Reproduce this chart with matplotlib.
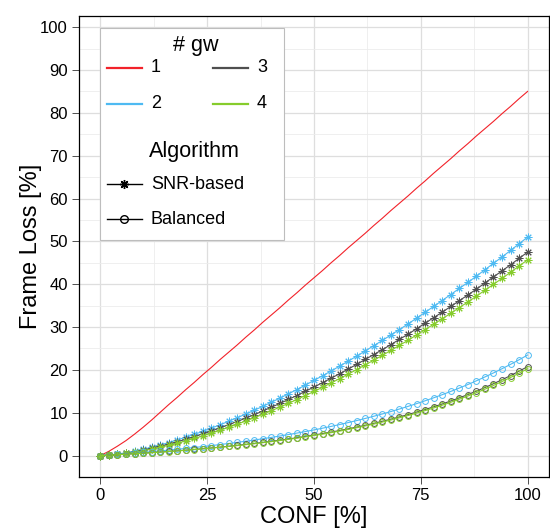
import matplotlib
matplotlib.use("Agg")
import matplotlib.pyplot as plt
from matplotlib.patches import Rectangle
from matplotlib.lines import Line2D
from matplotlib.ticker import MultipleLocator

plt.rcParams["font.family"] = ["Liberation Sans", "DejaVu Sans"]

C_RED = "#f2222a"
C_BLUE = "#4ebaf2"
C_DARK = "#4f4f4f"
C_GREEN = "#86cc2c"
C_GRID = "#dedede"
C_GRID_MINOR = "#ececec"

# CONF [%]
conf = [0, 2, 4, 6, 8, 10, 12, 14, 16, 18, 20, 22, 24, 26, 28, 30, 32, 34, 36, 38, 40,
        42, 44, 46, 48, 50, 52, 54, 56, 58, 60, 62, 64, 66, 68, 70, 72, 74, 76, 78, 80,
        82, 84, 86, 88, 90, 92, 94, 96, 98, 100]

# 1 gw (both algorithms coincide)
loss_gw1 = [0.0, 1.0, 2.2, 3.5, 5.0, 6.6, 8.3, 10.1, 11.9, 13.6, 15.4, 17.1, 18.9, 20.6,
            22.4, 24.1, 25.8, 27.6, 29.3, 31.1, 32.8, 34.5, 36.3, 38.0, 39.8, 41.5, 43.2,
            45.0, 46.7, 48.5, 50.2, 51.9, 53.7, 55.4, 57.2, 58.9, 60.6, 62.4, 64.1, 65.9,
            67.6, 69.3, 71.1, 72.8, 74.6, 76.3, 78.0, 79.8, 81.5, 83.3, 85.0]

# SNR-based
snr_gw2 = [0.0, 0.12, 0.36, 0.67, 1.04, 1.47, 1.95, 2.47, 3.03, 3.64, 4.28, 4.95, 5.66,
           6.41, 7.18, 7.99, 8.83, 9.68, 10.57, 11.48, 12.44, 13.40, 14.41, 15.41, 16.47,
           17.54, 18.63, 19.74, 20.88, 22.04, 23.21, 24.43, 25.66, 26.87, 28.16, 29.42,
           30.72, 32.07, 33.44, 34.81, 36.19, 37.59, 39.01, 40.40, 41.88, 43.37, 44.87,
           46.35, 47.88, 49.45, 51.0]
snr_gw3 = [0.0, 0.10, 0.30, 0.57, 0.90, 1.28, 1.70, 2.17, 2.67, 3.22, 3.80, 4.41, 5.06,
           5.73, 6.44, 7.18, 7.95, 8.73, 9.54, 10.39, 11.28, 12.16, 13.09, 14.02, 15.01,
           16.00, 17.01, 18.06, 19.10, 20.18, 21.30, 22.44, 23.59, 24.72, 25.91, 27.13,
           28.32, 29.60, 30.90, 32.19, 33.47, 34.80, 36.15, 37.48, 38.85, 40.28, 41.71,
           43.10, 44.54, 46.03, 47.5]
snr_gw4 = [0.0, 0.08, 0.26, 0.49, 0.78, 1.12, 1.51, 1.93, 2.39, 2.89, 3.43, 3.99, 4.60,
           5.22, 5.88, 6.58, 7.30, 8.05, 8.82, 9.62, 10.46, 11.30, 12.18, 13.08, 14.02,
           14.97, 15.94, 16.95, 17.96, 19.01, 20.07, 21.16, 22.29, 23.38, 24.56, 25.72,
           26.90, 28.14, 29.40, 30.66, 31.92, 33.22, 34.54, 35.84, 37.20, 38.59, 39.97,
           41.36, 42.78, 44.25, 45.7]

# Balanced
bal_gw2 = [0.0, 0.14, 0.28, 0.43, 0.58, 0.75, 0.92, 1.09, 1.28, 1.47, 1.67, 1.88, 2.10,
           2.33, 2.57, 2.82, 3.08, 3.35, 3.63, 3.93, 4.24, 4.56, 4.90, 5.25, 5.61, 5.99,
           6.39, 6.81, 7.24, 7.70, 8.17, 8.67, 9.18, 9.72, 10.28, 10.87, 11.48, 12.12,
           12.79, 13.48, 14.21, 14.97, 15.76, 16.58, 17.45, 18.35, 19.29, 20.27, 21.29,
           22.36, 23.47]
bal_gw3 = [0.0, 0.10, 0.21, 0.32, 0.44, 0.56, 0.69, 0.82, 0.96, 1.11, 1.27, 1.43, 1.61,
           1.79, 1.98, 2.17, 2.38, 2.60, 2.83, 3.07, 3.33, 3.59, 3.87, 4.16, 4.47, 4.79,
           5.13, 5.48, 5.85, 6.24, 6.65, 7.08, 7.53, 8.01, 8.50, 9.03, 9.57, 10.15, 10.75,
           11.38, 12.04, 12.74, 13.47, 14.24, 15.04, 15.88, 16.77, 17.70, 18.67, 19.70,
           20.77]
bal_gw4 = [0.0, 0.10, 0.20, 0.31, 0.43, 0.55, 0.67, 0.80, 0.94, 1.08, 1.24, 1.40, 1.57,
           1.75, 1.93, 2.12, 2.32, 2.54, 2.76, 3.00, 3.25, 3.50, 3.78, 4.06, 4.36, 4.68,
           5.01, 5.35, 5.71, 6.09, 6.49, 6.91, 7.35, 7.82, 8.30, 8.81, 9.34, 9.91, 10.49,
           11.11, 11.75, 12.43, 13.15, 13.90, 14.68, 15.50, 16.37, 17.28, 18.22, 19.23,
           20.27]

gw_labels = ["1", "2", "3", "4"]
gw_colors = [C_RED, C_BLUE, C_DARK, C_GREEN]
STAR = (8, 2, 0)

W, H = 550, 531
fig = plt.figure(figsize=(W / 100, H / 100), dpi=100)
ax = fig.add_axes([79 / W, 1 - 477 / H, 470 / W, 461 / H])

# series
ax.plot(conf, loss_gw1, color=C_RED, lw=0.8, zorder=3)
for ys, c in zip([snr_gw2, snr_gw3, snr_gw4], gw_colors[1:]):
    ax.plot(conf, ys, color=c, lw=0.8, marker=STAR, ms=5.5, mew=0.7, zorder=3)
for ys, c in zip([bal_gw2, bal_gw3, bal_gw4], gw_colors[1:]):
    ax.plot(conf, ys, color=c, lw=0.8, marker="o", ms=4.2, mew=0.7, mfc="none", zorder=3)

ax.set_xlim(-5, 105)
ax.set_ylim(-5, 102.6)
ax.xaxis.set_major_locator(MultipleLocator(25))
ax.xaxis.set_minor_locator(MultipleLocator(12.5))
ax.yaxis.set_major_locator(MultipleLocator(10))
ax.yaxis.set_minor_locator(MultipleLocator(5))
ax.grid(which="major", color=C_GRID, lw=0.9, zorder=0)
ax.grid(which="minor", color=C_GRID_MINOR, lw=0.6, zorder=0)
ax.set_axisbelow(True)
ax.tick_params(which="major", direction="out", length=5, width=0.6, color="#333333",
               labelsize=12, pad=3)
ax.tick_params(which="minor", length=0)
for s in ax.spines.values():
    s.set_color("black")
    s.set_linewidth(0.9)
ax.set_xlabel("CONF [%]", fontsize=17, labelpad=2)
ax.set_ylabel("Frame Loss [%]", fontsize=17, labelpad=-1)


# ── legend (drawn by hand in figure pixels) ──
def fx(px):
    return px / W


def fy(py):
    return 1 - py / H


def _key(x0, y, color, marker=None, mfc=None):
    ln = Line2D([fx(x0), fx(x0 + 35)], [fy(y), fy(y)], transform=fig.transFigure,
                color=color, lw=1.6 if marker is None else 1.0, zorder=6)
    fig.add_artist(ln)
    if marker is not None:
        mk = Line2D([fx(x0 + 17.5)], [fy(y)], transform=fig.transFigure, color=color,
                    marker=marker, ms=6.5 if marker != "o" else 5.5, mew=1.0, mfc=mfc,
                    lw=0, zorder=7)
        fig.add_artist(mk)


fig.add_artist(Rectangle((fx(100), fy(240)), fx(184), 212 / H, transform=fig.transFigure,
                         facecolor="white", edgecolor="#bdbdbd", lw=0.8, zorder=5))
fs = 13
fs_title = 15.5
fig.text(fx(196), fy(45), "# gw", ha="center", va="center", fontsize=fs_title, zorder=8)
for i, (lab, c) in enumerate(zip(gw_labels, gw_colors)):
    col, row = divmod(i, 2)
    x0 = 107 + col * 106
    y = 68 + row * 36
    _key(x0, y, c)
    fig.text(fx(x0 + 44), fy(y), lab, ha="left", va="center", fontsize=fs, zorder=8)
fig.text(fx(149), fy(152), "Algorithm", ha="left", va="center", fontsize=fs_title, zorder=8)
_key(107, 184, "black", marker=STAR)
fig.text(fx(151), fy(184), "SNR-based", ha="left", va="center", fontsize=fs, zorder=8)
_key(107, 219, "black", marker="o", mfc="none")
fig.text(fx(151), fy(219), "Balanced", ha="left", va="center", fontsize=fs, zorder=8)

fig.savefig("out.png", dpi=100, facecolor="white")
